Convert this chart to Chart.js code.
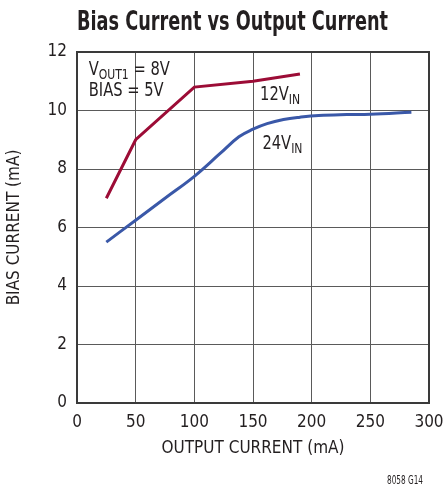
<!DOCTYPE html>
<html><head><meta charset="utf-8">
<script src="https://cdn.jsdelivr.net/npm/chart.js@4/dist/chart.umd.min.js"></script>
<style>html,body{margin:0;padding:0;background:#fff}#wrap{width:444px;height:487px;position:relative}</style>
</head><body><div id="wrap"><canvas id="c" width="444" height="487"></canvas></div>
<script>
const xTicks = [0, 50, 100, 150, 200, 250, 300];
const yTicks = [0, 2, 4, 6, 8, 10, 12];
const red12x = [25, 50, 100, 150, 190];
const red12y = [7.0, 9.0, 10.8, 11.0, 11.25];
const blue24x = [25, 50, 75, 100, 122, 138, 150, 162, 176, 190, 206, 230, 250, 285];
const blue24y = [5.5, 6.25, 7.0, 7.75, 8.53, 9.1, 9.36, 9.55, 9.69, 9.77, 9.83, 9.86, 9.87, 9.94];

const FONT = '"DejaVu Sans Condensed", "Liberation Sans", sans-serif';
const INK = '#231f20';

const textPlugin = {
  id: 'texts',
  afterDraw(chart) {
    const c = chart.ctx, xs = chart.scales.x, ys = chart.scales.y;
    c.save();
    c.fillStyle = INK;
    c.textBaseline = 'alphabetic';
    const fit = (txt, font, left, base, width) => {
      c.font = font;
      const w = c.measureText(txt).width;
      c.save(); c.translate(left, base); c.scale(width / w, 1);
      c.textAlign = 'left'; c.fillText(txt, 0, 0); c.restore();
    };
    fit('Bias Current vs Output Current', 'bold 26px ' + FONT, 77, 30, 311);
    fit('8058 G14', '13px ' + FONT, 387, 484, 36);
    const k = 0.86;
    const sub = (x, y, main, s, after, size) => {
      c.save(); c.translate(x, y); c.scale(k, 1);
      c.textAlign = 'left';
      c.font = size + 'px ' + FONT;
      c.fillText(main, 0, 0);
      let w = c.measureText(main).width;
      c.font = Math.round(size * 0.75) + 'px ' + FONT;
      c.fillText(s, w, 4);
      w += c.measureText(s).width;
      if (after) { c.font = size + 'px ' + FONT; c.fillText(after, w, 0); }
      c.restore();
    };
    const px = v => xs.getPixelForValue(v), py = v => ys.getPixelForValue(v);
    sub(px(10), py(11.2), 'V', 'OUT1', ' = 8V', 19);
    sub(px(10), py(10.5), 'BIAS = 5V', '', '', 19);
    sub(px(156), py(10.35), '12V', 'IN', '', 19);
    sub(px(158), py(8.7), '24V', 'IN', '', 19);
    c.restore();
  }
};

new Chart(document.getElementById('c'), {
  type: 'line',
  data: {
    datasets: [
      { label: '12VIN', data: red12x.map((x, i) => ({x, y: red12y[i]})), borderColor: '#9c0c36', borderWidth: 3, pointRadius: 0, tension: 0, fill: false },
      { label: '24VIN', data: blue24x.map((x, i) => ({x, y: blue24y[i]})), borderColor: '#3a58a8', borderWidth: 3, pointRadius: 0, tension: 0.4, fill: false }
    ]
  },
  options: {
    responsive: false, animation: false, devicePixelRatio: 1,
    layout: { padding: { top: 52, right: 15, bottom: 24, left: 0 } },
    plugins: { legend: { display: false }, tooltip: { enabled: false }, title: { display: false } },
    scales: {
      x: {
        type: 'linear', min: 0, max: 300,
        afterBuildTicks: s => { s.ticks = xTicks.map(v => ({value: v})); },
        afterFit: s => { s.height = 60; s.paddingRight = 0; s.paddingLeft = 0; },
        grid: { color: '#5a5a5a', lineWidth: 1, drawTicks: false },
        border: { color: '#3a3a3a', width: 2 },
        ticks: { color: INK, font: { family: FONT, size: 17 }, padding: 9, maxRotation: 0 },
        title: { display: true, text: 'OUTPUT CURRENT (mA)', color: INK, font: { family: FONT, size: 17 }, padding: { top: 5 } }
      },
      y: {
        type: 'linear', min: 0, max: 12,
        afterBuildTicks: s => { s.ticks = yTicks.map(v => ({value: v})); },
        afterFit: s => { s.width = 77; s.paddingTop = 0; s.paddingBottom = 0; },
        grid: { color: '#5a5a5a', lineWidth: 1, drawTicks: false },
        border: { color: '#3a3a3a', width: 2 },
        ticks: { color: INK, font: { family: FONT, size: 17 }, padding: 10 },
        title: { display: true, text: 'BIAS CURRENT (mA)', color: INK, font: { family: FONT, size: 17 }, padding: { bottom: 4 } }
      }
    }
  },
  plugins: [textPlugin, {
    id: 'frame',
    afterDatasetsDraw(chart) {
      const a = chart.chartArea, c = chart.ctx;
      c.save(); c.strokeStyle = '#3a3a3a'; c.lineWidth = 2;
      c.strokeRect(a.left, a.top, a.right - a.left, a.bottom - a.top);
      c.restore();
    }
  }]
});
</script></body></html>
